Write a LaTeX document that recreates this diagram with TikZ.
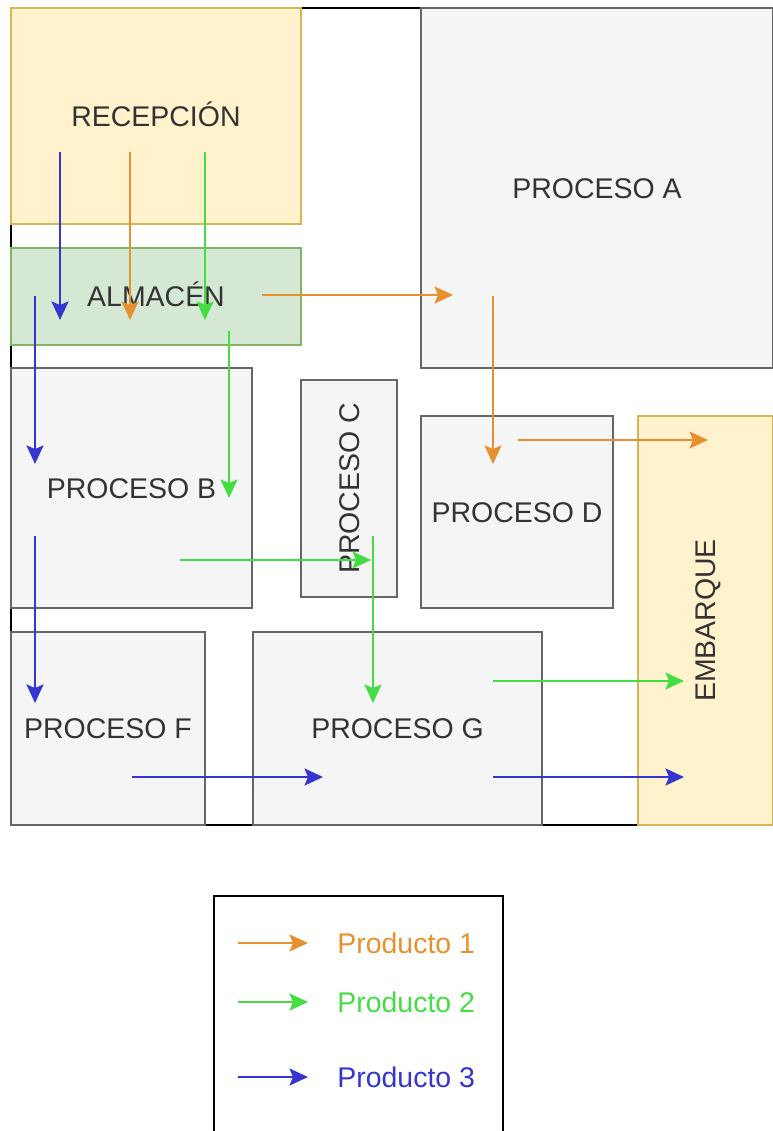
\documentclass[tikz,border=0pt]{standalone}
\usepackage{fontspec}
\setmainfont{Liberation Sans}
\usetikzlibrary{arrows.meta}

\definecolor{roomfill}{HTML}{F5F5F5}
\definecolor{roomline}{HTML}{666666}
\definecolor{roomtext}{HTML}{333333}
\definecolor{dockfill}{HTML}{FFF2CC}
\definecolor{dockline}{HTML}{D6B656}
\definecolor{storefill}{HTML}{D5E8D4}
\definecolor{storeline}{HTML}{82B366}
\definecolor{prodone}{HTML}{E6912F}
\definecolor{prodtwo}{HTML}{44DD44}
\definecolor{prodthree}{HTML}{3535D0}

\begin{document}
\begin{tikzpicture}[x=0.02cm,y=-0.02cm,
    room/.style={draw=roomline,fill=roomfill,line width=1pt,text=roomtext,
      font=\fontsize{16.2}{19}\selectfont,inner sep=0pt,text height=11.6pt,text depth=0pt},
    dock/.style={room,draw=dockline,fill=dockfill},
    store/.style={room,draw=storeline,fill=storefill},
    flow/.style={line width=1.3pt,-{Stealth[length=0.37cm,width=0.34cm,inset=0.07cm]}},
    legtext/.style={anchor=west,inner sep=0pt,font=\fontsize{16.2}{19}\selectfont}]
  \clip (0,0) rectangle (773,1131);
  % planta
  \draw[line width=1.2pt,fill=white] (11,8) rectangle (780,825);
  \node[dock,minimum width=5.8cm,minimum height=4.32cm] (recepcion) at (156,116) {RECEPCIÓN};
  \node[store,minimum width=5.8cm,minimum height=1.94cm] (almacen) at (156,296.5) {ALMACÉN};
  \node[room,minimum width=7.04cm,minimum height=7.2cm] (procA) at (597,188) {PROCESO A};
  \node[room,minimum width=4.82cm,minimum height=4.8cm] (procB) at (131.5,488) {PROCESO B};
  \node[room,minimum width=1.92cm,minimum height=4.34cm] (procC) at (349,488.5) {};
  \node[room,rotate=90,fill=none,draw=none] at (procC) {PROCESO C};
  \node[room,minimum width=3.84cm,minimum height=3.84cm] (procD) at (517,512) {PROCESO D};
  \node[dock,minimum width=2.7cm,minimum height=8.18cm] (embarque) at (705.5,620.5) {};
  \node[room,rotate=90,fill=none,draw=none] at (embarque) {EMBARQUE};
  \node[room,minimum width=3.88cm,minimum height=3.86cm] (procF) at (108,728.5) {PROCESO F};
  \node[room,minimum width=5.78cm,minimum height=3.86cm] (procG) at (397.5,728.5) {PROCESO G};
  % flujos
  \foreach \n/\c/\xa/\ya/\xb/\yb in {
      one-a/prodone/130/152/130/320, one-b/prodone/262/295/453/295,
      one-c/prodone/493/296/493/464, one-d/prodone/518/440/708/440,
      two-a/prodtwo/205/152/205/320, two-b/prodtwo/229/331/229/498,
      two-c/prodtwo/180/560/371/560, two-d/prodtwo/373/536/373/703,
      two-e/prodtwo/493/681/684/681,
      three-a/prodthree/60/152/60/320, three-b/prodthree/35/296/35/464,
      three-c/prodthree/35/536/35/703, three-d/prodthree/132/777/323/777,
      three-e/prodthree/493/777/684/777}{
    \coordinate (\n-s) at (\xa,\ya);
    \coordinate (\n-e) at (\xb,\yb);
    \draw[flow,\c] (\n-s) -- (\n-e);
  }
  % leyenda
  \draw[line width=1.2pt,fill=white] (214,896) rectangle (503,1140);
  \node[legtext,text=prodone] (leg1) at (337,943) {Producto 1};
  \node[legtext,text=prodtwo] (leg2) at (337,1002) {Producto 2};
  \node[legtext,text=prodthree] (leg3) at (337,1077) {Producto 3};
  \foreach \k/\c in {1/prodone,2/prodtwo,3/prodthree}{
    \coordinate (key\k) at ([xshift=-1.98cm]leg\k.west);
    \draw[flow,\c] (key\k) -- ([xshift=-0.58cm]leg\k.west);
  }
\end{tikzpicture}
\end{document}
